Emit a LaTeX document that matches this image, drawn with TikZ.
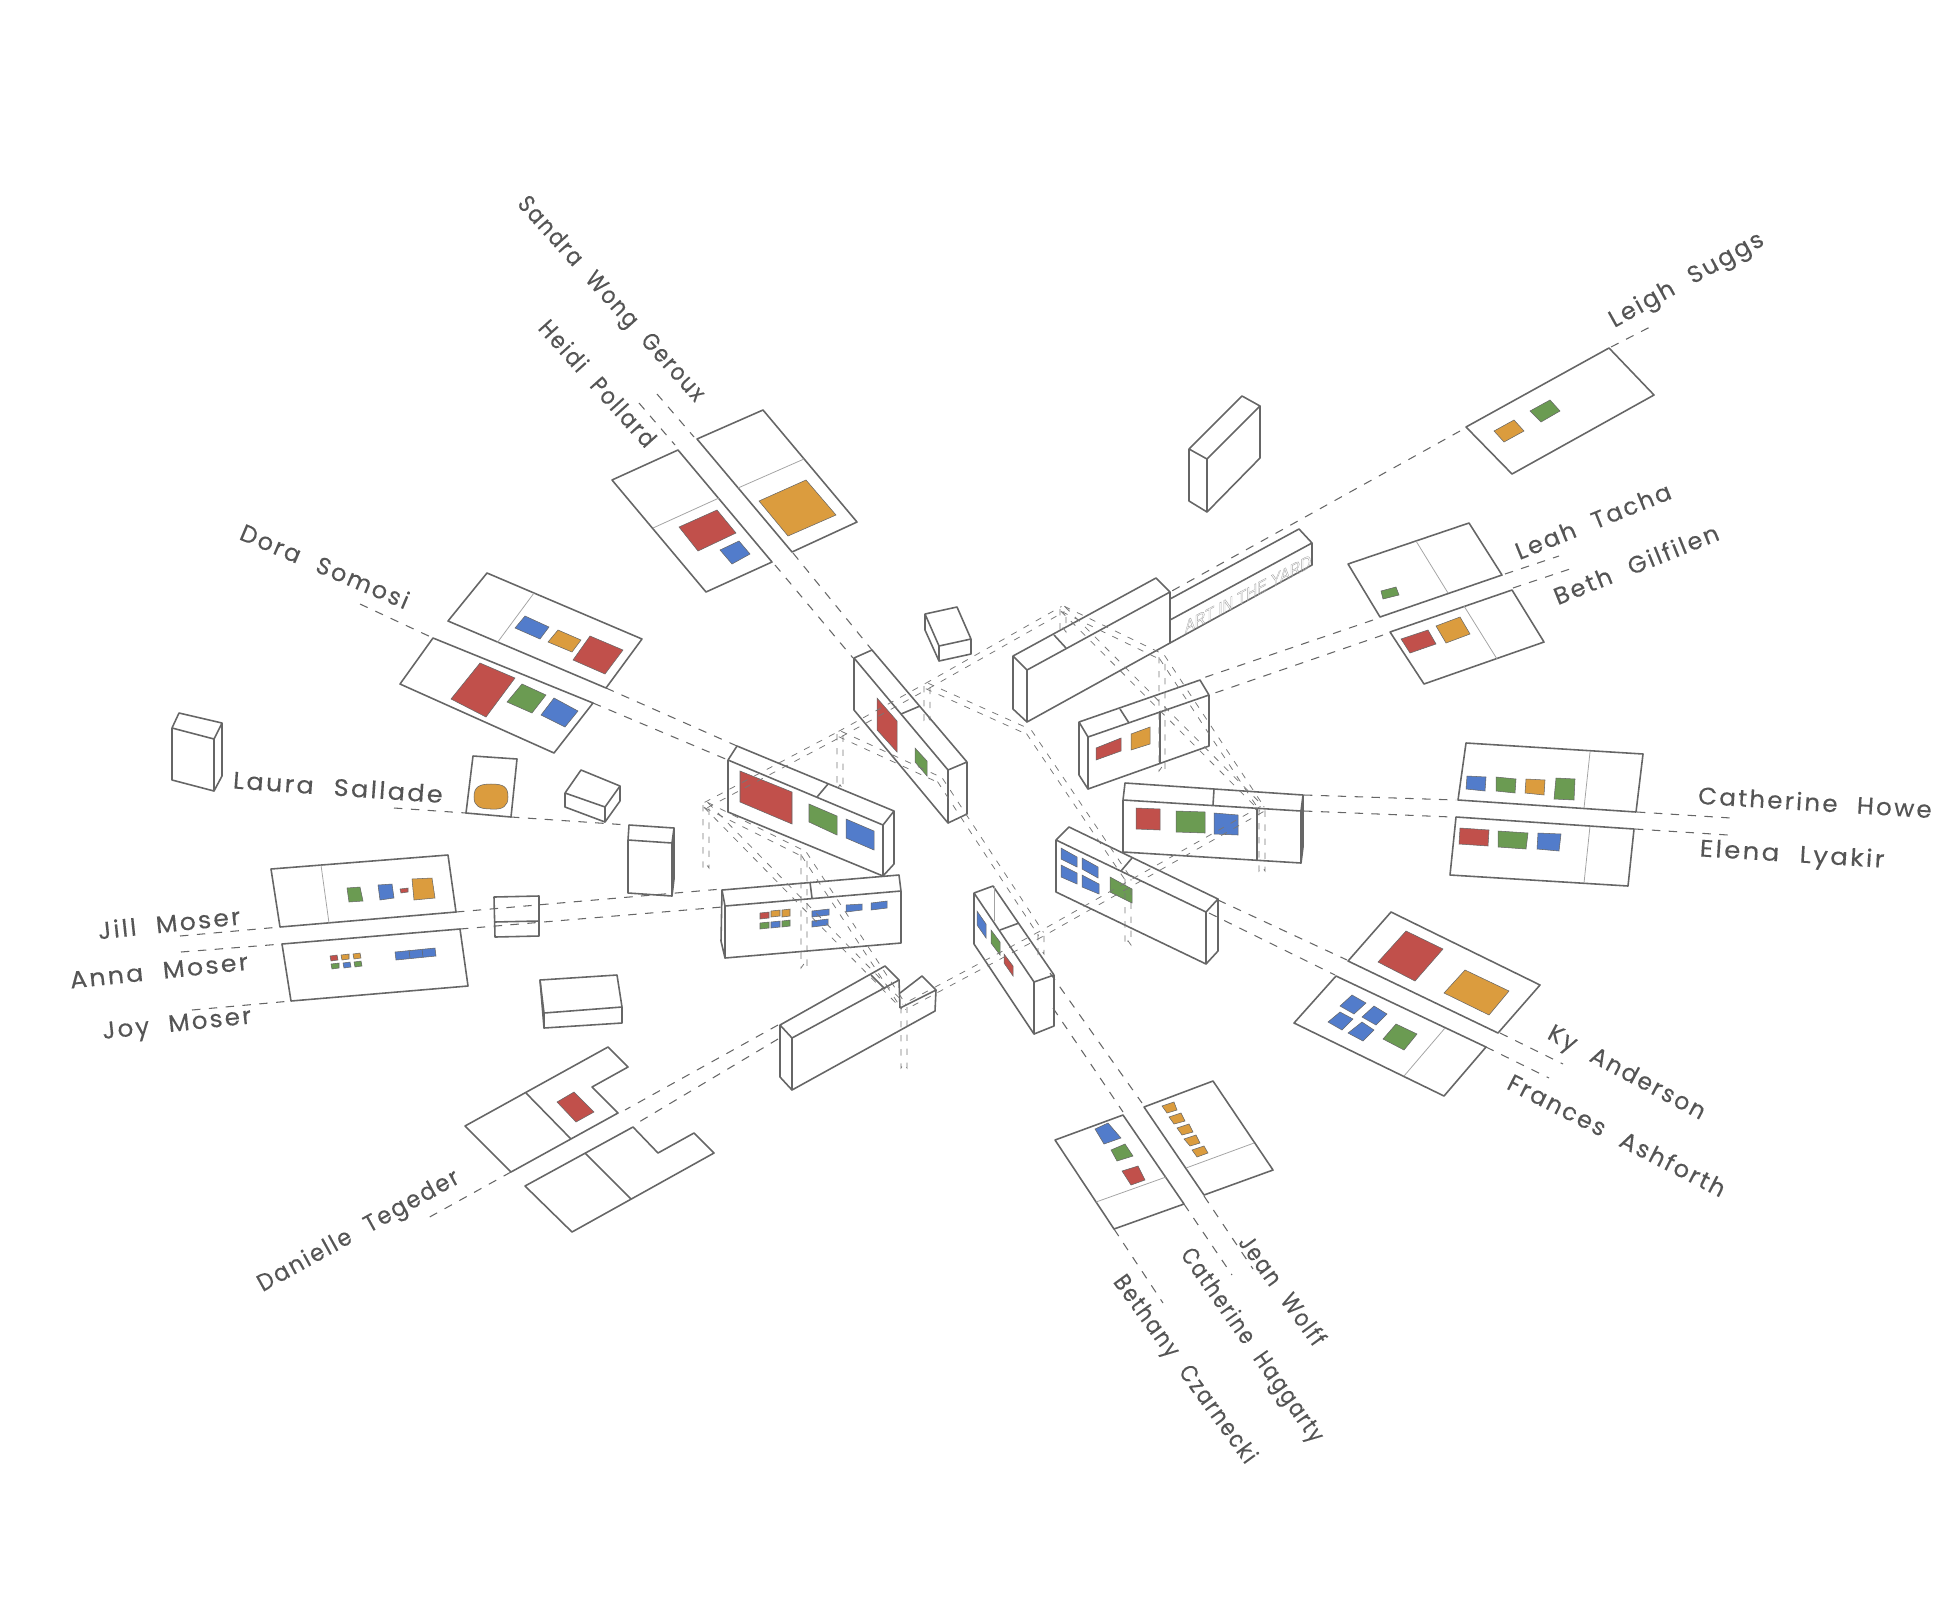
\documentclass[tikz,border=0pt]{standalone}
\usepackage{fontspec}
\usetikzlibrary{calc}
\setmainfont{Poppins}[LetterSpace=9,WordSpace=2.2,FakeBold=0.2]
\newfontfamily\signfont{Liberation Sans}
\definecolor{wallgray}{HTML}{666666}
\definecolor{labelgray}{HTML}{555555}
\definecolor{pathgray}{HTML}{777777}
\definecolor{artred}{HTML}{C1504B}
\definecolor{artgreen}{HTML}{6B9B52}
\definecolor{artblue}{HTML}{527CCB}
\definecolor{artorange}{HTML}{DB9C3E}
\tikzset{
  wall/.style={draw=wallgray, line width=0.45pt, line join=round},
  seam/.style={draw=wallgray!60, line width=0.22pt},
  lead/.style={draw=wallgray, line width=0.3pt, dash pattern=on 2.4pt off 2.4pt},
  lightdash/.style={draw=pathgray, line width=0.22pt, dash pattern=on 1.8pt off 2.2pt},
  artist/.style={text=labelgray, inner sep=0pt, font=\fontsize{6.8}{8}\selectfont},
  red/.style={fill=artred, draw=wallgray, line width=0.15pt},
  green/.style={fill=artgreen, draw=wallgray, line width=0.15pt},
  blue/.style={fill=artblue, draw=wallgray, line width=0.15pt},
  orange/.style={fill=artorange, draw=wallgray, line width=0.15pt}
}
% two dashed lines side by side between two junctions
\newcommand{\lpath}[2]{%
  \draw[lightdash] ($(#1)!0.85pt!90:(#2)$) -- ($(#2)!0.85pt!-90:(#1)$);
  \draw[lightdash] ($(#1)!0.85pt!-90:(#2)$) -- ($(#2)!0.85pt!90:(#1)$);}
% post hanging under a junction
\newcommand{\lpost}[2]{%
  \draw[lightdash] ($(#1)+(-0.85pt,0)$) -- ($(#2)+(-0.85pt,0)$) -- ($(#2)+(0,1.2pt)$) -- ($(#2)+(0.85pt,0)$) -- ($(#1)+(0.85pt,0)$);}
\begin{document}
\begin{tikzpicture}[x=0.01cm,y=-0.01cm]
\useasboundingbox (0,0) rectangle (1958,1612);
% leader lines
\draw [lead] (657,394) -- (694,437);
\draw [lead] (793,553) -- (872,650);
\draw [lead] (639,403) -- (675,445);
\draw [lead] (775,565) -- (853,658);
\draw [lead] (1460,431) -- (1170,592);
\draw [lead] (1611,347) -- (1650,327);
\draw [lead] (1373,620) -- (1200,679);
\draw [lead] (1505,574) -- (1559,556);
\draw [lead] (1383,635) -- (1209,695);
\draw [lead] (1513,588) -- (1570,569);
\draw [lead] (1304,795) -- (1456,800);
\draw [lead] (1637,812) -- (1731,818);
\draw [lead] (1304,811) -- (1452,817);
\draw [lead] (1635,829) -- (1728,835);
\draw [lead] (1218,900) -- (1347,960);
\draw [lead] (1500,1033) -- (1563,1064);
\draw [lead] (1209,913) -- (1335,975);
\draw [lead] (1486,1047) -- (1549,1078);
\draw [lead] (1050,973) -- (1142,1103);
\draw [lead] (1204,1196) -- (1253,1269);
\draw [lead] (1053,1008) -- (1123,1112);
\draw [lead] (1184,1204) -- (1232,1275);
\draw [lead] (1114,1229) -- (1163,1303);
\draw [lead] (778,1025) -- (625,1110);
\draw [lead] (511,1172) -- (426,1219);
\draw [lead] (778,1039) -- (634,1125);
\draw [lead] (360,604) -- (433,638);
\draw [lead] (593,703) -- (728,760);
\draw [lead] (606,688) -- (737,746);
\draw [lead] (394,808) -- (466,813);
\draw [lead] (511,817) -- (628,825);
\draw [lead] (180,936) -- (280,927);
\draw [lead] (456,912) -- (722,889);
\draw [lead] (181,952) -- (282,944);
\draw [lead] (460,929) -- (722,907);
\draw [lead] (192,1010) -- (291,1001);
% floor panels
\draw [wall] (612,480) -- (678,450) -- (772,562) -- (706,592) -- cycle;
\draw [seam] (653,528) -- (719,498);
\draw [red] (679,527) -- (717,510) -- (736,533) -- (698,551) -- cycle;
\draw [blue] (720,550) -- (739,541) -- (750,554) -- (732,564) -- cycle;
\draw [wall] (697,439) -- (763,410) -- (857,522) -- (792,552) -- cycle;
\draw [seam] (738,488) -- (804,459);
\draw [orange] (759,501) -- (806,480) -- (836,515) -- (788,536) -- cycle;
\draw [wall] (487,573) -- (642,639) -- (606,688) -- (448,621) -- cycle;
\draw [seam] (534,593) -- (497,643);
\draw [blue] (525,616) -- (549,627) -- (540,639) -- (515,628) -- cycle;
\draw [orange] (558,630) -- (581,640) -- (572,652) -- (548,642) -- cycle;
\draw [red] (590,636) -- (623,650) -- (605,674) -- (573,660) -- cycle;
\draw [wall] (433,638) -- (593,703) -- (554,753) -- (400,684) -- cycle;
\draw [red] (480,663) -- (515,678) -- (486,717) -- (451,699) -- cycle;
\draw [green] (522,684) -- (546,695) -- (532,713) -- (507,702) -- cycle;
\draw [blue] (554,698) -- (578,711) -- (565,727) -- (541,715) -- cycle;
\draw [wall] (271,869) -- (448,855) -- (456,912) -- (280,927) -- cycle;
\draw [seam] (321,865) -- (329,923);
\draw [green] (347,888) -- (360,887) -- (363,901) -- (349,902) -- cycle;
\draw [blue] (378,885) -- (392,884) -- (394,898) -- (380,900) -- cycle;
\draw [red] (400,889) -- (408,888) -- (408,892) -- (401,893) -- cycle;
\draw [orange] (412,879) -- (432,878) -- (435,898) -- (414,900) -- cycle;
\draw [wall] (282,944) -- (460,929) -- (468,986) -- (291,1001) -- cycle;
\draw [red] (330,956) -- (337,955) -- (338,960) -- (331,961) -- cycle;
\draw [orange] (341,955) -- (349,954) -- (349,959) -- (342,960) -- cycle;
\draw [orange] (353,954) -- (360,953) -- (361,958) -- (354,959) -- cycle;
\draw [green] (331,964) -- (339,963) -- (339,968) -- (332,969) -- cycle;
\draw [blue] (343,963) -- (350,962) -- (351,967) -- (344,968) -- cycle;
\draw [green] (354,962) -- (361,961) -- (362,966) -- (355,967) -- cycle;
\draw [blue] (395,952) -- (435,948) -- (436,956) -- (396,960) -- cycle;
\draw [blue] (409,950) -- (410,958);
\draw [blue] (422,949) -- (423,957);
\draw [wall] (465,1126) -- (608,1047) -- (628,1067) -- (592,1087) -- (618,1113) -- (511,1172) -- cycle;
\draw [wall] (526,1093) -- (571,1139);
\draw [red] (574,1092) -- (594,1112) -- (576,1122) -- (557,1102) -- cycle;
\draw [wall] (633,1127) -- (658,1153) -- (694,1133) -- (714,1153) -- (572,1232) -- (525,1186) -- cycle;
\draw [wall] (585,1153) -- (631,1199);
\draw [wall] (1391,912) -- (1540,985) -- (1498,1033) -- (1348,961) -- cycle;
\draw [red] (1406,931) -- (1443,949) -- (1415,981) -- (1378,962) -- cycle;
\draw [orange] (1465,970) -- (1509,991) -- (1489,1015) -- (1444,993) -- cycle;
\draw [wall] (1336,976) -- (1486,1047) -- (1444,1096) -- (1294,1023) -- cycle;
\draw [seam] (1445,1028) -- (1404,1076);
\draw [blue] (1352,995) -- (1366,1003) -- (1354,1014) -- (1340,1006) -- cycle;
\draw [blue] (1374,1006) -- (1387,1014) -- (1376,1025) -- (1362,1017) -- cycle;
\draw [blue] (1340,1012) -- (1353,1019) -- (1342,1030) -- (1328,1022) -- cycle;
\draw [blue] (1362,1022) -- (1374,1030) -- (1363,1041) -- (1348,1033) -- cycle;
\draw [green] (1396,1024) -- (1417,1034) -- (1404,1050) -- (1383,1039) -- cycle;
\draw [wall] (1466,743) -- (1643,754) -- (1636,812) -- (1458,800) -- cycle;
\draw [seam] (1590,752) -- (1584,808);
\draw [blue] (1467,776) -- (1486,777) -- (1485,791) -- (1466,789) -- cycle;
\draw [green] (1496,777) -- (1516,779) -- (1515,793) -- (1496,791) -- cycle;
\draw [orange] (1526,779) -- (1545,780) -- (1544,795) -- (1525,793) -- cycle;
\draw [green] (1556,778) -- (1575,779) -- (1574,800) -- (1554,799) -- cycle;
\draw [wall] (1456,817) -- (1634,829) -- (1628,886) -- (1450,875) -- cycle;
\draw [seam] (1590,826) -- (1584,883);
\draw [red] (1460,828) -- (1489,830) -- (1488,846) -- (1459,844) -- cycle;
\draw [green] (1498,831) -- (1528,833) -- (1526,849) -- (1498,847) -- cycle;
\draw [blue] (1538,833) -- (1561,834) -- (1559,851) -- (1537,849) -- cycle;
\draw [wall] (1466,427) -- (1609,348) -- (1654,395) -- (1512,474) -- cycle;
\draw [orange] (1514,420) -- (1524,431) -- (1504,442) -- (1494,431) -- cycle;
\draw [green] (1550,400) -- (1560,411) -- (1541,422) -- (1530,411) -- cycle;
\draw [wall] (1348,564) -- (1469,523) -- (1502,575) -- (1380,617) -- cycle;
\draw [seam] (1416,541) -- (1448,593);
\draw [green] (1381,591) -- (1396,587) -- (1399,595) -- (1383,599) -- cycle;
\draw [wall] (1390,632) -- (1512,590) -- (1544,642) -- (1424,684) -- cycle;
\draw [seam] (1464,606) -- (1497,659);
\draw [red] (1401,639) -- (1428,630) -- (1436,644) -- (1410,653) -- cycle;
\draw [orange] (1436,626) -- (1460,617) -- (1470,634) -- (1446,643) -- cycle;
\draw [wall] (1055,1140) -- (1123,1115) -- (1184,1204) -- (1114,1229) -- cycle;
\draw [seam] (1096,1202) -- (1166,1177);
\draw [blue] (1108,1123) -- (1121,1138) -- (1104,1144) -- (1095,1129) -- cycle;
\draw [green] (1125,1144) -- (1133,1156) -- (1117,1161) -- (1111,1150) -- cycle;
\draw [red] (1138,1166) -- (1145,1180) -- (1131,1185) -- (1122,1171) -- cycle;
\draw [wall] (1144,1107) -- (1213,1081) -- (1273,1170) -- (1204,1195) -- cycle;
\draw [seam] (1186,1168) -- (1254,1143);
\draw [orange] (1174,1102) -- (1177,1110) -- (1167,1113) -- (1162,1106) -- cycle;
\draw [orange] (1181,1113) -- (1185,1121) -- (1174,1124) -- (1169,1117) -- cycle;
\draw [orange] (1189,1124) -- (1193,1132) -- (1182,1135) -- (1177,1128) -- cycle;
\draw [orange] (1196,1135) -- (1200,1143) -- (1190,1146) -- (1184,1139) -- cycle;
\draw [orange] (1204,1146) -- (1208,1153) -- (1197,1157) -- (1192,1150) -- cycle;
\draw [wall] (473,756) -- (517,759) -- (511,817) -- (466,813) -- cycle;
\draw [orange] (491,784) .. controls (504,784) and (508,787) .. (508,797) .. controls (508,806) and (503,810) .. (491,809) .. controls (479,809) and (474,806) .. (474,797) .. controls (474,787) and (479,784) .. (491,784) -- cycle;
% loose boxes
\draw [wall] (1189,449) -- (1242,396) -- (1260,406) -- (1207,459) -- cycle;
\draw [wall] (1207,459) -- (1207,512) -- (1260,458) -- (1260,406);
\draw [wall] (1189,449) -- (1189,501) -- (1207,512);
\draw [wall] (925,614) -- (957,607) -- (971,639) -- (939,646) -- cycle;
\draw [wall] (939,646) -- (939,661) -- (971,654) -- (971,639);
\draw [wall] (925,614) -- (925,630) -- (939,661);
\draw [wall] (565,793) -- (581,770) -- (620,786) -- (605,807) -- cycle;
\draw [wall] (605,807) -- (605,822) -- (620,801) -- (620,786);
\draw [wall] (565,793) -- (565,807) -- (605,822);
\draw [wall] (629,825) -- (674,828) -- (672,843) -- (628,840) -- cycle;
\draw [wall] (628,840) -- (628,893) -- (672,896) -- (672,843);
\draw [wall] (674,828) -- (674,879) -- (672,896);
\draw [wall] (179,713) -- (222,723) -- (214,739) -- (172,728) -- cycle;
\draw [wall] (172,728) -- (172,780) -- (214,791) -- (214,739);
\draw [wall] (222,723) -- (222,776) -- (214,791);
\draw [wall] (494,897) -- (539,896) -- (539,936) -- (495,937) -- cycle;
\draw [wall] (494,922) -- (539,921);
\draw [wall] (540,980) -- (617,975) -- (622,1007) -- (544,1013) -- cycle;
\draw [wall] (544,1013) -- (544,1028) -- (622,1023) -- (622,1007);
\draw [wall] (540,980) -- (544,1028);
% yard sign
\draw [wall] (1170,599) -- (1299,529) -- (1312,543) -- (1170,620);
\draw [wall] (1312,543) -- (1312,565) -- (1170,643);
\node (yardsign) [yslant=0.53, xscale=0.81, inner sep=0pt, font=\signfont\fontsize{5.2}{6}\selectfont] at (1248,594) {\special{pdf:code 1 Tr 0.12 w 0.65 G}ART IN THE YARD\special{pdf:code 0 Tr}};
% walls
\draw [wall] (854,658) -- (872,650) -- (967,762) -- (948,770) -- cycle;
\draw [wall] (854,658) -- (854,710) -- (948,823) -- (948,770);
\draw [wall] (967,762) -- (967,814) -- (948,823);
\draw [wall] (901,714) -- (920,706);
\draw [red] (877,698) -- (897,721) -- (897,752) -- (877,730) -- cycle;
\draw [green] (915,748) -- (927,761) -- (927,776) -- (915,762) -- cycle;
\draw [wall] (728,760) -- (737,746) -- (894,811) -- (883,825) -- cycle;
\draw [wall] (728,760) -- (728,812) -- (883,876) -- (883,825);
\draw [wall] (894,811) -- (894,864) -- (883,876);
\draw [wall] (817,797) -- (828,784);
\draw [red] (740,771) -- (792,792) -- (792,824) -- (740,802) -- cycle;
\draw [green] (809,804) -- (837,816) -- (837,835) -- (809,822) -- cycle;
\draw [blue] (846,819) -- (874,831) -- (874,850) -- (846,838) -- cycle;
\draw [wall] (722,890) -- (899,875) -- (901,891) -- (725,906) -- cycle;
\draw [wall] (725,906) -- (725,958) -- (901,943) -- (901,891);
\draw [wall] (722,890) -- (721,941) -- (725,958);
\draw [wall] (810,882) -- (812,898);
\draw [red] (760,913) -- (769,912) -- (769,918) -- (760,919) -- cycle;
\draw [orange] (771,911) -- (780,910) -- (780,916) -- (771,917) -- cycle;
\draw [orange] (782,910) -- (790,909) -- (790,916) -- (782,917) -- cycle;
\draw [green] (760,923) -- (769,922) -- (769,928) -- (760,929) -- cycle;
\draw [blue] (771,922) -- (780,921) -- (780,927) -- (771,928) -- cycle;
\draw [green] (782,921) -- (790,920) -- (790,926) -- (782,927) -- cycle;
\draw [blue] (812,911) -- (829,909) -- (829,915) -- (812,917) -- cycle;
\draw [blue] (812,921) -- (828,919) -- (828,925) -- (812,927) -- cycle;
\draw [blue] (846,905) -- (862,904) -- (862,910) -- (846,912) -- cycle;
\draw [blue] (871,903) -- (887,901) -- (887,908) -- (871,910) -- cycle;
\draw [wall] (780,1025) -- (885,966) -- (899,980) -- (792,1038) -- cycle;
\draw [wall] (792,1038) -- (792,1090) -- (935,1011) -- (936,990);
\draw [wall] (780,1025) -- (780,1077) -- (792,1090);
\draw [wall] (871,975) -- (885,989);
\draw [wall] (899,980) -- (900,1008);
\draw [wall] (900,993) -- (922,976) -- (936,990) -- (900,1008);
\draw [wall] (974,893) -- (993,886) -- (1054,975) -- (1034,982) -- cycle;
\draw [wall] (974,893) -- (974,944) -- (1034,1034) -- (1034,982);
\draw [wall] (1054,975) -- (1054,1026) -- (1034,1034);
\draw [wall] (1000,930) -- (1019,923);
\draw [seam] (994,886) -- (994,921);
\draw [blue] (977,911) -- (986,924) -- (986,938) -- (977,925) -- cycle;
\draw [green] (991,930) -- (1000,942) -- (1000,955) -- (991,943) -- cycle;
\draw [red] (1004,954) -- (1013,966) -- (1013,976) -- (1004,963) -- cycle;
\draw [wall] (1056,840) -- (1069,827) -- (1218,899) -- (1206,912) -- cycle;
\draw [wall] (1056,840) -- (1056,892) -- (1206,964) -- (1206,912);
\draw [wall] (1218,899) -- (1218,951) -- (1206,964);
\draw [wall] (1121,871) -- (1132,858);
\draw [blue] (1061,848) -- (1077,857) -- (1077,867) -- (1061,859) -- cycle;
\draw [blue] (1082,858) -- (1098,867) -- (1098,878) -- (1082,869) -- cycle;
\draw [blue] (1061,865) -- (1077,873) -- (1077,884) -- (1061,877) -- cycle;
\draw [blue] (1082,875) -- (1099,884) -- (1099,894) -- (1082,887) -- cycle;
\draw [green] (1110,877) -- (1132,889) -- (1132,903) -- (1110,892) -- cycle;
\draw [wall] (1125,783) -- (1303,795) -- (1301,811) -- (1123,800) -- cycle;
\draw [wall] (1123,800) -- (1123,852) -- (1301,863) -- (1301,811);
\draw [wall] (1303,795) -- (1303,847) -- (1301,863);
\draw [wall] (1214,789) -- (1213,805);
\draw [wall] (1257,808) -- (1257,860);
\draw [red] (1136,808) -- (1160,809) -- (1160,830) -- (1136,829) -- cycle;
\draw [green] (1176,811) -- (1205,812) -- (1205,833) -- (1176,832) -- cycle;
\draw [blue] (1214,813) -- (1238,815) -- (1238,835) -- (1214,834) -- cycle;
\draw [wall] (1079,722) -- (1200,680) -- (1209,695) -- (1088,737) -- cycle;
\draw [wall] (1088,737) -- (1088,789) -- (1209,746) -- (1209,695);
\draw [wall] (1079,722) -- (1079,775) -- (1088,789);
\draw [wall] (1120,709) -- (1129,723);
\draw [wall] (1160,711) -- (1160,764);
\draw [red] (1096,748) -- (1121,738) -- (1121,751) -- (1096,760) -- cycle;
\draw [orange] (1131,734) -- (1150,727) -- (1150,744) -- (1131,750) -- cycle;
\draw [wall] (1013,656) -- (1156,578) -- (1170,592) -- (1027,670) -- cycle;
\draw [wall] (1027,670) -- (1027,722) -- (1170,643) -- (1170,592);
\draw [wall] (1013,656) -- (1013,709) -- (1027,722);
\draw [wall] (1054,635) -- (1066,648);
% light paths
\coordinate (jn1) at (1063,609);
\coordinate (jn2) at (927,686);
\coordinate (jn3) at (840,734);
\coordinate (jn4) at (706,805);
\coordinate (jn5) at (804,854);
\coordinate (jn6) at (1029,732);
\coordinate (jn7) at (1162,657);
\coordinate (jn8) at (1262,809);
\coordinate (jn9) at (1041,934);
\coordinate (jn10) at (904,1007);
\coordinate (jn11) at (1128,879);
\coordinate (jn12) at (940,780);
\lpath{jn4}{jn3}
\lpath{jn3}{jn2}
\lpath{jn2}{jn1}
\lpath{jn2}{jn6}
\lpath{jn3}{jn12}
\lpath{jn12}{jn9}
\lpath{jn6}{jn11}
\lpath{jn1}{jn7}
\lpath{jn1}{jn8}
\lpath{jn7}{jn8}
\lpath{jn8}{jn9}
\lpath{jn9}{jn10}
\lpath{jn4}{jn5}
\lpath{jn4}{jn10}
\lpath{jn5}{jn10}
\coordinate (ft1) at (1063,632);
\coordinate (ft2) at (927,720);
\coordinate (ft3) at (840,789);
\coordinate (ft4) at (706,868);
\coordinate (ft5) at (804,968);
\coordinate (ft7) at (1162,771);
\coordinate (ft8) at (1262,871);
\coordinate (ft9) at (1041,954);
\coordinate (ft10) at (904,1068);
\coordinate (ft11) at (1128,945);
\lpost{jn1}{ft1}
\lpost{jn2}{ft2}
\lpost{jn3}{ft3}
\lpost{jn4}{ft4}
\lpost{jn5}{ft5}
\lpost{jn7}{ft7}
\lpost{jn8}{ft8}
\lpost{jn9}{ft9}
\lpost{jn10}{ft10}
\lpost{jn11}{ft11}
% names
\node (sandra) [artist, rotate=-48, xscale=0.87] at (610,300) {Sandra Wong Geroux};
\node (heidi) [artist, rotate=-48, xscale=0.89] at (598,383) {Heidi Pollard};
\node (leigh) [artist, rotate=29] at (1687,281) {Leigh Suggs};
\node (leah) [artist, rotate=22] at (1593,521) {Leah Tacha};
\node (beth) [artist, rotate=22, xscale=1.01] at (1636,564) {Beth Gilfilen};
\node (howe) [artist, rotate=-3.5, xscale=1.03] at (1815,802) {Catherine Howe};
\node (elena) [artist, rotate=-3.5, xscale=1.09] at (1792,856) {Elena Lyakir};
\node (ky) [artist, rotate=-28, xscale=0.98] at (1626,1074) {Ky Anderson};
\node (frances) [artist, rotate=-27] at (1617,1135) {Frances Ashforth};
\node (jean) [artist, rotate=-54, xscale=0.85] at (1283,1290) {Jean Wolff};
\node (haggarty) [artist, rotate=-55, xscale=0.82] at (1251,1346) {Catherine Haggarty};
\node (bethany) [artist, rotate=-54, xscale=0.855] at (1184,1370) {Bethany Czarnecki};
\node (danielle) [artist, rotate=29, xscale=0.94] at (359,1232) {Danielle Tegeder};
\node (joy) [artist, rotate=6, xscale=1.03] at (177,1026) {Joy Moser};
\node (anna) [artist, rotate=6, xscale=1.06] at (159,971) {Anna Moser};
\node (jill) [artist, rotate=6, xscale=1.05] at (169,923) {Jill Moser};
\node (laura) [artist, rotate=-4, xscale=1.07] at (338,787) {Laura Sallade};
\node (dora) [artist, rotate=-23] at (325,566) {Dora Somosi};
\end{tikzpicture}
\end{document}
